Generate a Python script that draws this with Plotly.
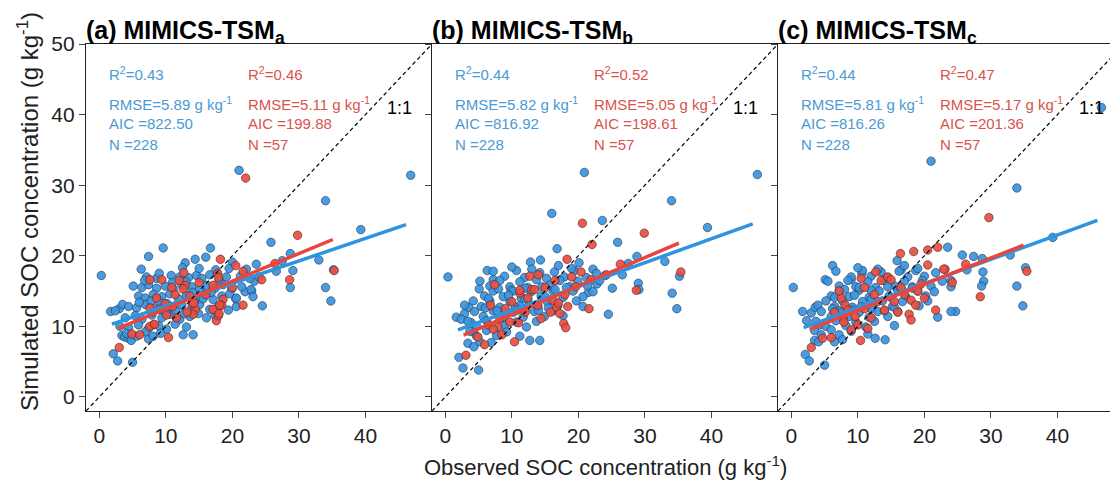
import plotly.graph_objects as go

# ---------------- data ----------------
panel_letters = ["a", "b", "c"]
r2_blue = ["0.43", "0.44", "0.44"]
r2_red = ["0.46", "0.52", "0.47"]
rmse_blue = ["5.89", "5.82", "5.81"]
rmse_red = ["5.11", "5.05", "5.17"]
aic_blue = ["822.50", "816.92", "816.26"]
aic_red = ["199.88", "198.61", "201.36"]
n_blue = ["228", "228", "228"]
n_red = ["57", "57", "57"]

# regression line end points (observed, simulated)
fit_blue_x = [[1.9, 46.1], [1.9, 46.2], [1.85, 46.0]]
fit_blue_y = [[10.3, 24.4], [9.5, 24.5], [9.8, 25.0]]
fit_red_x = [[2.85, 35.1], [2.75, 35.1], [2.75, 34.9]]
fit_red_y = [[9.7, 22.3], [8.75, 21.8], [9.55, 21.5]]

# (observed, simulated) pairs
blue_a = [
    (0.3, 17.2), (1.7, 12.1), (3.0, 12.5), (3.5, 13.1), (2.1, 6.1), (2.75, 5.1), (5.0, 4.9), (3.4, 8.7),
    (3.8, 8.5), (4.4, 8.3), (4.8, 8.0), (7.4, 8.2), (12.6, 8.8), (14.1, 8.8), (6.3, 18.1), (7.4, 19.9),
    (9.6, 21.1), (16.7, 21.1), (12.9, 19.0), (14.4, 19.5), (16.0, 19.8), (20.0, 19.1), (22.1, 18.1),
    (23.6, 18.8), (25.8, 21.9), (28.7, 20.3), (29.1, 17.9), (28.7, 15.5), (33.0, 19.4), (34.0, 15.5),
    (34.8, 13.6), (35.2, 18.0), (39.3, 23.7), (34.0, 27.8), (21.0, 32.1), (46.8, 31.4), (24.5, 12.9),
    (21.9, 14.9), (22.9, 15.0), (20.6, 12.8), (20.5, 13.9), (26.6, 17.8), (27.5, 19.3), (23.3, 16.4),
    (22.8, 15.2), (24.0, 17.0), (5.1, 15.7), (2.4, 12.2), (4.4, 12.8), (3.9, 11.2), (3.1, 10.0),
    (7.1, 17.0), (8.6, 16.8), (10.8, 17.2), (12.1, 17.0), (13.4, 16.9), (14.6, 17.2), (15.4, 16.8),
    (16.6, 17.3), (19.1, 17.0), (21.2, 17.1), (22.6, 16.8),
    (6.4, 15.5), (7.4, 15.9), (8.6, 15.4), (9.9, 15.7), (11.1, 15.3), (12.4, 15.9), (13.9, 15.6),
    (15.1, 15.2), (16.1, 15.8), (17.4, 15.4), (18.6, 15.9), (19.9, 15.3), (21.4, 15.6),
    (5.9, 14.3), (6.9, 14.0), (8.1, 14.5), (9.4, 14.2), (10.6, 14.6), (11.9, 13.9), (13.1, 14.4),
    (14.6, 14.1), (15.9, 14.5), (17.1, 13.8), (18.4, 14.3), (19.6, 14.6), (20.6, 14.0), (23.1, 14.2),
    (5.6, 12.6), (6.9, 13.1), (8.4, 12.5), (9.6, 12.9), (10.9, 12.4), (12.4, 13.0), (13.9, 12.6),
    (15.1, 13.1), (16.6, 12.4), (17.9, 12.8), (19.4, 12.3),
    (5.4, 11.5), (6.4, 11.0), (7.9, 11.6), (9.4, 11.2), (10.6, 11.7), (12.1, 11.0), (13.6, 11.4),
    (14.9, 11.8), (16.1, 11.2), (17.4, 11.5),
    (4.4, 9.8), (5.9, 10.2), (7.4, 9.7), (8.9, 10.1), (10.1, 9.6), (11.4, 10.3), (13.1, 9.9),
    (4.1, 9.0), (5.6, 8.6), (6.9, 9.2), (8.1, 8.6), (9.2, 9.0),
    (6.0, 13.4), (7.8, 13.6), (9.0, 13.5), (10.2, 13.2), (11.5, 12.2), (12.8, 11.8), (14.3, 13.5),
    (15.6, 13.9), (8.0, 12.0), (10.0, 12.0), (11.0, 16.2), (13.0, 16.3), (14.0, 14.8), (16.8, 14.8),
    (18.0, 16.6), (19.5, 18.2), (17.5, 18.0), (15.0, 18.2), (12.5, 18.3), (9.0, 17.5), (6.8, 16.5),
]
red_a = [
    (3.0, 7.0), (4.9, 8.9), (6.1, 8.8), (8.1, 10.2), (10.4, 8.4), (7.6, 16.6), (9.4, 16.6), (12.7, 17.6),
    (18.2, 19.5), (20.5, 18.6), (22.0, 31.0), (29.8, 22.9), (28.6, 16.6), (35.3, 17.9), (24.4, 16.6),
    (26.4, 18.9), (21.6, 13.0), (17.6, 10.8), (17.9, 11.5), (17.1, 12.4), (18.0, 11.8), (10.9, 15.5),
    (12.9, 15.8), (17.1, 15.8), (11.4, 14.5), (13.6, 14.3), (18.6, 13.8), (7.6, 12.6), (9.9, 13.2),
    (14.4, 12.4), (18.4, 13.0), (10.1, 11.6), (11.6, 11.2), (14.1, 11.7), (7.6, 10.0),
    (8.3, 10.3), (12.6, 15.3), (15.0, 16.2), (14.0, 13.2), (16.0, 14.5), (11.0, 12.8), (13.2, 12.0),
    (8.6, 14.0), (20.0, 15.5), (17.8, 17.5), (21.6, 17.8), (12.0, 16.5), (9.0, 12.4), (17.9, 16.9),
    (14.2, 13.3), (18.1, 13.0),
]
blue_b = [
    (0.4, 17.0), (1.65, 11.3), (2.9, 11.8), (3.5, 12.7), (2.05, 5.6), (2.65, 4.1), (5.0, 3.8), (3.4, 7.6),
    (4.3, 7.1), (12.7, 8.0), (14.2, 8.0), (6.3, 17.9), (7.2, 16.6), (5.1, 15.3), (12.8, 19.1),
    (14.3, 19.4), (16.0, 26.0), (16.8, 21.0), (20.1, 19.0), (22.2, 18.1), (23.6, 25.0), (25.9, 21.9),
    (28.8, 19.9), (29.0, 16.1), (29.1, 15.2), (33.0, 19.2), (34.1, 14.7), (34.8, 12.5), (35.2, 17.1),
    (39.4, 24.0), (34.0, 27.8), (20.9, 31.8), (46.9, 31.5), (24.5, 11.7), (25.1, 15.4), (26.6, 17.3),
    (27.5, 18.9), (24.0, 17.2), (22.8, 16.0), (21.5, 14.8), (2.4, 11.0), (3.9, 10.5), (4.2, 9.2),
    (7.2, 17.8), (8.9, 17.1), (10.7, 17.9), (11.9, 16.9), (14.2, 17.6), (15.2, 16.8), (16.4, 17.7),
    (17.9, 17.0), (19.4, 17.9), (21.2, 16.9), (22.7, 17.5),
    (5.2, 16.4), (6.7, 15.7), (8.2, 16.5), (9.7, 15.6), (11.2, 16.3), (12.4, 15.5), (13.7, 16.6),
    (15.7, 15.8), (17.2, 16.5), (18.7, 15.6), (19.9, 16.4), (21.4, 15.7), (23.2, 16.5),
    (5.9, 14.3), (7.2, 15.0), (8.7, 14.2), (9.9, 15.1), (11.4, 14.0), (12.9, 14.9), (14.4, 14.3),
    (16.2, 15.0), (17.7, 14.1), (19.2, 15.0), (20.7, 14.2), (22.2, 14.9),
    (2.9, 13.0), (4.2, 13.6), (5.4, 12.8), (6.7, 13.6), (8.2, 12.7), (9.7, 13.5), (11.2, 12.9),
    (12.4, 13.7), (13.9, 12.8), (15.4, 13.4), (16.9, 12.9), (19.7, 13.6), (20.7, 12.8),
    (4.4, 12.1), (5.7, 11.4), (7.2, 12.2), (8.7, 11.3), (10.2, 12.0), (11.7, 11.3), (13.4, 12.1),
    (14.9, 11.4), (16.2, 12.2), (17.7, 11.5),
    (3.4, 10.7), (4.7, 10.0), (6.2, 10.8), (8.9, 10.1), (10.7, 10.6), (12.2, 9.9), (13.7, 10.7),
    (3.7, 9.3), (4.7, 8.6), (6.2, 9.4), (7.7, 8.7), (9.2, 9.2), (11.2, 8.6),
    (5.2, 7.8), (6.9, 7.7),
    (6.0, 12.6), (7.8, 12.2), (9.0, 12.0), (10.5, 12.7), (12.0, 12.4), (14.0, 12.3), (15.5, 12.6),
    (8.0, 15.3), (10.2, 15.0), (12.0, 15.4), (14.5, 15.6), (16.5, 15.2), (18.2, 15.5), (10.0, 18.4),
    (13.0, 18.1), (17.0, 18.6), (19.0, 18.2), (6.5, 13.9), (9.5, 14.4), (12.0, 13.9), (15.0, 14.2),
]
red_b = [
    (3.1, 5.9), (4.9, 8.5), (5.9, 7.4), (10.4, 7.8), (12.7, 17.1), (7.4, 15.9), (18.3, 19.5), (20.6, 24.6),
    (22.05, 21.6), (20.4, 17.7), (24.2, 17.3), (16.7, 12.7), (17.8, 10.4), (18.1, 9.8), (18.4, 12.8),
    (21.6, 12.5), (29.9, 23.2), (28.7, 15.1), (35.4, 17.7), (26.3, 18.8), (8.2, 11.1), (7.9, 9.9),
    (9.7, 10.6), (11.2, 14.7), (12.4, 14.0), (13.9, 13.0), (14.4, 11.1), (16.2, 13.7), (19.6, 15.6),
    (21.9, 16.6), (10.0, 13.5), (12.0, 12.0), (15.0, 15.5), (13.0, 15.2), (9.0, 12.5), (6.5, 10.2),
    (8.5, 8.8), (11.0, 10.5), (16.5, 16.5), (18.0, 14.5), (14.0, 17.3), (17.2, 11.8), (19.0, 17.0),
    (6.8, 13.0), (11.2, 15.1), (13.4, 15.2), (7.2, 9.6), (10.8, 12.3), (15.8, 12.0), (17.0, 13.3),
]
blue_c = [
    (0.3, 15.5), (1.7, 12.1), (3.0, 11.9), (3.6, 12.7), (2.1, 6.0), (2.7, 5.1), (5.0, 4.5), (3.5, 8.0),
    (4.1, 7.8), (12.6, 8.3), (14.1, 8.1), (6.2, 18.6), (5.1, 16.6), (23.5, 21.2), (25.7, 20.1),
    (27.4, 19.9), (28.7, 19.6), (28.8, 17.7), (28.9, 16.4), (28.6, 15.7), (24.7, 12.1), (33.9, 15.7),
    (34.8, 12.9), (35.2, 18.3), (32.9, 20.1), (39.3, 22.6), (21.0, 33.4), (33.9, 29.6), (46.6, 41.0),
    (15.9, 19.3), (16.5, 18.0), (22.0, 11.3), (24.0, 12.1), (10.6, 17.5), (9.0, 16.6), (26.4, 18.0),
    (24.0, 16.5), (2.3, 10.8), (4.3, 10.2),
    (6.7, 17.8), (9.0, 17.0), (10.7, 17.9), (12.0, 17.1), (13.5, 17.7), (14.5, 16.9), (16.2, 17.8),
    (17.5, 17.0), (18.7, 17.9), (20.0, 17.1), (21.7, 17.6),
    (5.5, 16.4), (7.2, 15.7), (8.5, 16.5), (9.7, 15.6), (11.5, 16.3), (12.7, 15.5), (14.0, 16.5),
    (15.5, 15.7), (17.0, 16.4), (18.2, 15.6), (19.7, 16.5), (21.0, 15.7), (22.7, 16.4), (24.0, 15.6),
    (6.0, 14.3), (7.2, 15.0), (8.7, 14.2), (10.2, 15.1), (11.7, 14.1), (13.2, 15.0), (14.7, 14.3),
    (16.0, 15.1), (17.2, 14.2), (19.0, 15.0), (20.2, 14.3), (21.5, 14.9),
    (4.0, 13.0), (5.2, 13.6), (6.5, 12.8), (7.7, 13.6), (9.2, 12.7), (10.7, 13.5), (12.2, 12.9),
    (13.7, 13.6), (15.2, 12.8), (16.7, 13.5), (19.2, 12.9), (20.5, 13.6),
    (4.5, 12.1), (6.0, 11.4), (7.2, 12.2), (8.7, 11.4), (10.2, 12.0), (11.7, 11.3), (13.0, 12.1),
    (14.5, 11.4), (16.0, 12.1),
    (3.7, 10.7), (5.2, 10.0), (6.7, 10.8), (8.2, 10.1), (9.7, 10.6), (11.2, 9.9), (12.5, 10.7),
    (15.5, 10.1), (3.5, 9.4), (4.5, 8.8), (6.0, 9.5), (7.2, 8.8), (9.0, 9.3), (11.5, 8.9),
    (6.5, 7.8), (7.7, 8.1),
    (6.2, 12.5), (7.6, 12.0), (9.3, 12.3), (10.5, 12.8), (12.0, 12.5), (14.0, 12.2), (15.5, 12.7),
    (8.0, 15.2), (10.2, 15.5), (12.0, 15.1), (14.5, 15.6), (16.5, 15.3), (18.2, 15.4), (10.0, 18.3),
    (13.0, 18.1), (17.0, 18.6), (19.0, 18.2), (6.5, 14.1), (9.5, 14.4), (12.0, 13.8), (15.0, 14.1),
]
red_c = [
    (3.0, 7.0), (4.7, 8.3), (6.0, 8.4), (10.4, 8.0), (16.4, 20.3), (18.4, 20.6), (20.5, 20.8), (22.0, 21.2),
    (20.5, 18.7), (23.1, 18.1), (12.7, 17.7), (11.0, 15.5), (7.5, 14.0), (18.0, 13.7), (18.7, 13.0),
    (17.7, 11.7), (18.0, 10.9), (21.7, 12.3), (8.1, 13.0), (9.6, 11.4), (14.0, 12.3), (26.2, 18.8),
    (22.9, 18.1), (28.4, 14.2), (35.4, 17.8), (29.7, 25.4), (24.2, 16.2), (7.2, 15.0), (10.0, 10.2),
    (12.5, 14.5), (13.5, 16.5), (15.5, 13.5), (16.5, 15.5), (11.0, 12.5), (9.0, 9.5), (19.5, 16.0),
    (14.5, 17.0), (7.8, 11.2), (7.9, 10.6), (11.5, 9.7), (15.0, 16.6), (8.5, 12.3), (13.0, 13.5),
    (17.0, 14.5), (10.5, 16.8), (16.0, 12.0), (19.0, 15.0), (6.5, 12.0), (12.0, 11.2), (20.0, 14.0),
]

blue_points = [blue_a, blue_b, blue_c]
red_points = [red_a, red_b, red_c]

axis_min = -2
x_max = [50, 50, 49.1]
y_max = 50
x_ticks = [0, 10, 20, 30, 40]
y_ticks = [0, 10, 20, 30, 40, 50]

# ---------------- styling ----------------
BLUE_PT = "rgba(58,148,222,0.92)"
RED_PT = "rgba(232,78,66,0.92)"
BLUE_LINE = "#2E94E0"
RED_LINE = "#E8453C"
BLUE_TXT = "#4A9AD4"
RED_TXT = "#D9534C"
FONT = "Liberation Sans, Arial, sans-serif"

# the page body has an 8px default margin, so the figure is 8px smaller
FIG_W, FIG_H = 1110, 476
M_L, M_R, M_T, M_B = 78, 0, 36, 73
W_PLOT = float(FIG_W - M_L - M_R)
domains = [[0, 346 / W_PLOT], [346 / W_PLOT, 692 / W_PLOT], [692 / W_PLOT, 1.0]]

fig = go.Figure()
annotations = []

for i in range(3):
    sfx = "" if i == 0 else str(i + 1)
    xa, ya = "x" + sfx, "y" + sfx
    bx = [p[0] for p in blue_points[i]]
    by = [p[1] for p in blue_points[i]]
    rx = [p[0] for p in red_points[i]]
    ry = [p[1] for p in red_points[i]]
    fig.add_trace(go.Scatter(x=bx, y=by, mode="markers", xaxis=xa, yaxis=ya, showlegend=False,
                             marker=dict(size=8.5, color=BLUE_PT, line=dict(color="#23384d", width=0.6))))
    fig.add_trace(go.Scatter(x=rx, y=ry, mode="markers", xaxis=xa, yaxis=ya, showlegend=False,
                             marker=dict(size=8.5, color=RED_PT, line=dict(color="#4a2320", width=0.6))))
    fig.add_trace(go.Scatter(x=fit_blue_x[i], y=fit_blue_y[i], mode="lines", xaxis=xa, yaxis=ya,
                             showlegend=False, line=dict(color=BLUE_LINE, width=3.5)))
    fig.add_trace(go.Scatter(x=fit_red_x[i], y=fit_red_y[i], mode="lines", xaxis=xa, yaxis=ya,
                             showlegend=False, line=dict(color=RED_LINE, width=3.5)))
    fig.add_trace(go.Scatter(x=[axis_min, y_max], y=[axis_min, y_max], mode="lines", xaxis=xa, yaxis=ya,
                             showlegend=False, line=dict(color="black", width=1.2, dash="4px,3px")))

    fig.update_layout({
        "xaxis" + sfx: dict(domain=domains[i], range=[axis_min, x_max[i]], anchor=ya,
                            tickvals=x_ticks, ticks="outside", ticklen=6, tickwidth=1.2,
                            showline=True, linecolor="#222", linewidth=1.3, mirror=True,
                            showgrid=False, zeroline=False,
                            tickfont=dict(size=21, color="#222", family=FONT)),
        "yaxis" + sfx: dict(domain=[0, 1], range=[axis_min, y_max], anchor=xa,
                            tickvals=y_ticks, ticks="outside", ticklen=6, tickwidth=1.2,
                            showline=True, linecolor="#222", linewidth=1.3, mirror=False,
                            showgrid=False, zeroline=False, showticklabels=(i == 0),
                            tickfont=dict(size=21, color="#222", family=FONT)),
    })

    # panel title
    annotations.append(dict(text="<b>(%s) MIMICS-TSM<sub>%s</sub></b>" % (panel_letters[i], panel_letters[i]),
                            xref=xa + " domain", yref=ya + " domain", x=0, y=1, xanchor="left",
                            yanchor="bottom", showarrow=False, xshift=-2, yshift=-6,
                            font=dict(size=25, color="black", family=FONT)))
    # statistics
    rows_blue = ["R<sup>2</sup>=" + r2_blue[i], "RMSE=" + rmse_blue[i] + " g kg<sup>-1</sup>",
                 "AIC =" + aic_blue[i], "N =" + n_blue[i]]
    rows_red = ["R<sup>2</sup>=" + r2_red[i], "RMSE=" + rmse_red[i] + " g kg<sup>-1</sup>",
                "AIC =" + aic_red[i], "N =" + n_red[i]]
    row_y = [45.8, 41.6, 38.8, 35.7]
    for txt, yy in zip(rows_blue, row_y):
        annotations.append(dict(text=txt, xref=xa, yref=ya, x=1.15, y=yy, xanchor="left", yanchor="middle",
                                showarrow=False, font=dict(size=15, color=BLUE_TXT, family=FONT)))
    for txt, yy in zip(rows_red, row_y):
        annotations.append(dict(text=txt, xref=xa, yref=ya, x=22.1, y=yy, xanchor="left", yanchor="middle",
                                showarrow=False, font=dict(size=15, color=RED_TXT, family=FONT)))
    annotations.append(dict(text="1:1", xref=xa, yref=ya, x=45.1, y=40.9, xanchor="center", yanchor="middle",
                            showarrow=False, font=dict(size=18, color="black", family=FONT)))

annotations.append(dict(text="Observed SOC concentration (g kg<sup>-1</sup>)", xref="paper", yref="paper",
                        x=0.503, y=-0.15, xanchor="center", yanchor="middle", showarrow=False,
                        font=dict(size=22, color="#222", family=FONT)))
annotations.append(dict(text="Simulated SOC concentration (g kg<sup>-1</sup>)", xref="paper", yref="paper",
                        x=-0.0562, y=0.542, xanchor="center", yanchor="middle", textangle=-90,
                        showarrow=False, font=dict(size=24, color="#222", family=FONT)))

fig.update_layout(width=FIG_W, height=FIG_H, margin=dict(l=M_L, r=M_R, t=M_T, b=M_B),
                  paper_bgcolor="white", plot_bgcolor="white", annotations=annotations,
                  font=dict(family=FONT))

fig.write_html("out.html")
